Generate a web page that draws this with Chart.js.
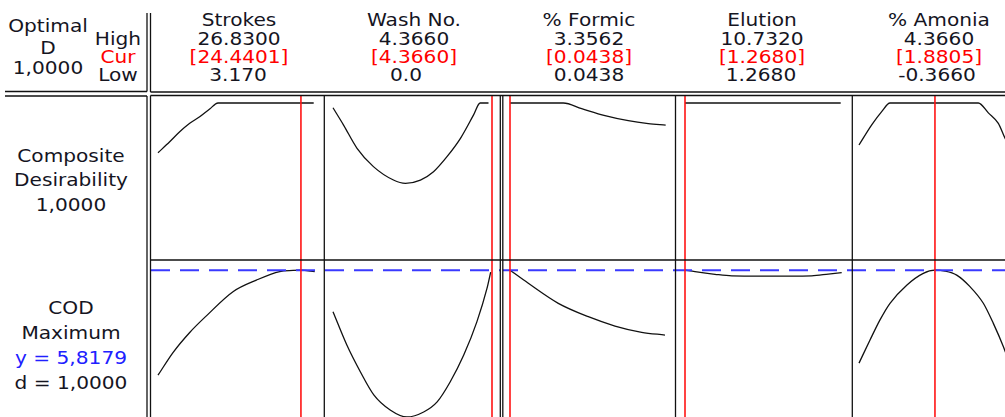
<!DOCTYPE html>
<html>
<head>
<meta charset="utf-8">
<title>Response Optimizer – COD</title>
<script src="https://cdn.jsdelivr.net/npm/chart.js@4.4.1/dist/chart.umd.min.js"></script>
<style>
  html, body { margin: 0; padding: 0; background: #fff; width: 1005px; height: 417px; overflow: hidden; }
  #stage { position: relative; width: 1005px; height: 417px; overflow: hidden;
           font-family: 'DejaVu Sans', Verdana, sans-serif; color: #15151f; }
  .t { position: absolute; white-space: nowrap; font-size: 17.5px; line-height: 1;
       transform: translateX(-50%) scaleX(1.15); transform-origin: 50% 50%; }
  .red { color: #ff0000; }
  .blue { color: #2020ff; }
  canvas { position: absolute; }
  #frame { position: absolute; left: 0; top: 0; z-index: 3; pointer-events: none; }
</style>
</head>
<body>
<div id="stage"></div>
<script>
// ---- header text ----
const factorNames = ['Strokes', 'Wash No.', '% Formic', 'Elution', '% Amonia'];
const highLabels  = ['26.8300', '4.3660', '3.3562', '10.7320', '4.3660'];
const curLabels   = ['24.4401', '4.3660', '0.0438', '1.2680', '1.8805'];
const lowLabels   = ['3.170', '0.0', '0.0438', '1.2680', '-0.3660'];
const compositeDesirability = '1,0000';
const codOptimum = 5.8179;          // predicted COD at the current settings
const codDesirability = '1,0000';

// ---- composite desirability slices (one per factor) ----
const strokesDesX = [3.17, 4.91, 6.40, 7.89, 9.37, 10.86, 12.10, 26.34];
const strokesDes  = [0.666, 0.740, 0.807, 0.864, 0.908, 0.960, 1.0, 1.0];
const washDesX = [0, 0.29, 0.66, 1.11, 1.66, 1.99, 2.40, 2.76, 3.13, 3.50, 3.86, 4.04, 4.27];
const washDes  = [0.968, 0.852, 0.696, 0.573, 0.483, 0.461, 0.483, 0.539, 0.640, 0.763, 0.920, 1.0, 1.0];
const formicDesX = [0.0438, 1.154, 1.537, 2.023, 2.508, 2.924, 3.287];
const formicDes  = [1.0, 1.0, 0.962, 0.915, 0.881, 0.862, 0.852];
const elutionDesX = [1.268, 10.536];
const elutionDes  = [1.0, 1.0];
const amoniaDesX = [-0.366, 0.010, 0.305, 0.551, 3.163, 3.459, 3.755, 3.953, 4.33];
const amoniaDes  = [0.718, 0.853, 0.942, 1.0, 1.0, 0.934, 0.863, 0.763, 0.60];

// ---- COD response slices (one per factor) ----
const strokesCodX = [3.17, 5.40, 7.89, 10.37, 14.33, 17.81, 21.28, 23.26, 24.44, 26.49];
const strokesCod  = [3.73, 4.18, 4.58, 4.91, 5.39, 5.62, 5.79, 5.812, 5.818, 5.79];
const washCodX = [0, 0.38, 0.75, 1.12, 1.57, 2.03, 2.49, 2.86, 3.22, 3.59, 3.95, 4.23, 4.33];
const washCod  = [4.99, 4.33, 3.80, 3.34, 3.04, 2.90, 3.00, 3.20, 3.60, 4.13, 4.79, 5.46, 5.78];
const formicCodX = [0.0438, 0.425, 1.050, 1.675, 2.231, 2.787, 3.272];
const formicCod  = [5.8179, 5.557, 5.159, 4.893, 4.708, 4.583, 4.529];
const elutionCodX = [1.268, 1.863, 3.054, 4.048, 5.833, 7.5, 8.809, 9.797, 10.595];
const elutionCod  = [5.8179, 5.787, 5.736, 5.705, 5.700, 5.700, 5.705, 5.74, 5.77];
const amoniaCodX = [-0.366, -0.04, 0.255, 0.551, 1.045, 1.536, 1.8805, 2.178, 2.524, 2.917, 3.311, 3.607, 3.902, 4.33];
const amoniaCod  = [3.97, 4.43, 4.83, 5.16, 5.52, 5.755, 5.8179, 5.80, 5.72, 5.49, 5.16, 4.76, 4.30, 3.50];

const desSlices = [[strokesDesX, strokesDes], [washDesX, washDes], [formicDesX, formicDes],
                   [elutionDesX, elutionDes], [amoniaDesX, amoniaDes]];
const codSlices = [[strokesCodX, strokesCod], [washCodX, washCod], [formicCodX, formicCod],
                   [elutionCodX, elutionCod], [amoniaCodX, amoniaCod]];

// ---- layout ----
const stage = document.getElementById('stage');
const colCenter = [238.5, 413.5, 589.3, 762, 938.5];
const lowCenter = [238, 405.5, 589.3, 760.5, 937];
const panelLeft  = [151, 324, 503, 676, 852];
const panelWidth = [173, 176, 173, 176, 176];
const padLeft  = [7, 9, 7, 9, 7];
const padRight = [7, 8, 7, 8, 9];
const rows = [
  { top: 95,  height: 165, pad: { top: 8, bottom: 8 }, yMin: 0,    yMax: 1 },
  { top: 260, height: 166, pad: { top: 2, bottom: 9 }, yMin: 2.90, yMax: 5.98 }
];
const FONT_ASCENT = 14.8; // baseline offset for 17.5px DejaVu Sans at line-height 1

function text(str, cx, baseline, cls) {
  const d = document.createElement('div');
  d.className = 't' + (cls ? ' ' + cls : '');
  d.textContent = str;
  d.style.left = cx + 'px';
  d.style.top = (baseline - FONT_ASCENT) + 'px';
  stage.appendChild(d);
}

// left header block
text('Optimal', 48, 33);
text('D', 48, 55);
text(compositeDesirability, 48, 75);
text('High', 117.5, 46);
text('Cur', 118, 64, 'red');
text('Low', 117.5, 82);

// factor columns
factorNames.forEach((name, i) => {
  text(name, colCenter[i], 27);
  text(highLabels[i], colCenter[i], 46);
  text('[' + curLabels[i] + ']', colCenter[i], 64, 'red');
  text(lowLabels[i], lowCenter[i], 82);
});

// row labels
text('Composite', 71, 162.7);
text('Desirability', 71, 186.7);
text(compositeDesirability, 71, 211.7);
text('COD', 71, 315);
text('Maximum', 71, 340);
text('y = ' + codOptimum.toFixed(4).replace('.', ','), 71, 365, 'blue');
text('d = ' + codDesirability, 71, 389.5);

// current setting (red) and optimum response (blue dashed) guides
const guides = {
  id: 'guides',
  afterDatasetsDraw(chart, args, opts) {
    const { ctx, width, height } = chart;
    const xs = chart.scales.x, ys = chart.scales.y;
    ctx.save();
    if (opts.target != null) {
      const py = ys.getPixelForValue(opts.target);
      ctx.strokeStyle = '#3a3aff';
      ctx.lineWidth = 2;
      ctx.setLineDash([19, 10]);
      ctx.lineDashOffset = opts.dashPhase;
      ctx.beginPath();
      ctx.moveTo(0, py);
      ctx.lineTo(width, py);
      ctx.stroke();
    }
    const px = xs.getPixelForValue(opts.cur);
    ctx.setLineDash([]);
    ctx.strokeStyle = '#ff1414';
    ctx.lineWidth = 1.6;
    ctx.beginPath();
    ctx.moveTo(px, 0);
    ctx.lineTo(px, height);
    ctx.stroke();
    ctx.restore();
  }
};

function panel(col, rowIdx, xs, ys) {
  const row = rows[rowIdx];
  const cv = document.createElement('canvas');
  cv.width = panelWidth[col];
  cv.height = row.height;
  cv.style.left = panelLeft[col] + 'px';
  cv.style.top = row.top + 'px';
  stage.appendChild(cv);
  new Chart(cv, {
    type: 'line',
    data: {
      datasets: [{
        data: xs.map((v, i) => ({ x: v, y: ys[i] })),
        borderColor: '#111',
        borderWidth: 1.3,
        pointRadius: 0,
        cubicInterpolationMode: 'monotone',
        clip: false
      }]
    },
    options: {
      responsive: false,
      animation: false,
      devicePixelRatio: 1,
      events: [],
      layout: { padding: { left: padLeft[col], right: padRight[col], top: row.pad.top, bottom: row.pad.bottom } },
      scales: {
        x: { type: 'linear', display: false,
             min: parseFloat(lowLabels[col]), max: parseFloat(highLabels[col]) },
        y: { type: 'linear', display: false, min: row.yMin, max: row.yMax }
      },
      plugins: {
        legend: { display: false },
        tooltip: { enabled: false },
        guides: {
          cur: parseFloat(curLabels[col]),
          target: rowIdx === 1 ? codOptimum : null,
          dashPhase: panelLeft[col] - panelLeft[0]
        }
      }
    },
    plugins: [guides]
  });
}

for (let c = 0; c < 5; c++) {
  panel(c, 0, desSlices[c][0], desSlices[c][1]);
  panel(c, 1, codSlices[c][0], codSlices[c][1]);
}

// frame: double-ruled boxes and panel dividers
const NS = 'http://www.w3.org/2000/svg';
const svg = document.createElementNS(NS, 'svg');
svg.setAttribute('id', 'frame');
svg.setAttribute('width', 1005);
svg.setAttribute('height', 417);
function rule(x1, y1, x2, y2) {
  const l = document.createElementNS(NS, 'line');
  l.setAttribute('x1', x1); l.setAttribute('y1', y1);
  l.setAttribute('x2', x2); l.setAttribute('y2', y2);
  l.setAttribute('stroke', '#111');
  l.setAttribute('stroke-width', 1.3);
  svg.appendChild(l);
}
// header boxes
rule(147, 13, 147, 91.5);   rule(5, 91.5, 147, 91.5);
rule(150.5, 13, 150.5, 92); rule(150.5, 92, 1005, 92);
// body boxes
rule(147, 96, 147, 417);    rule(5, 96, 147, 96);
rule(150.5, 95.5, 150.5, 417); rule(150.5, 95.5, 1005, 95.5);
// panel dividers
[324.3, 500.3, 502.8, 675.5, 852.3].forEach(x => rule(x, 95.5, x, 417));
rule(150.5, 260, 1005, 260);
stage.appendChild(svg);
</script>
</body>
</html>
